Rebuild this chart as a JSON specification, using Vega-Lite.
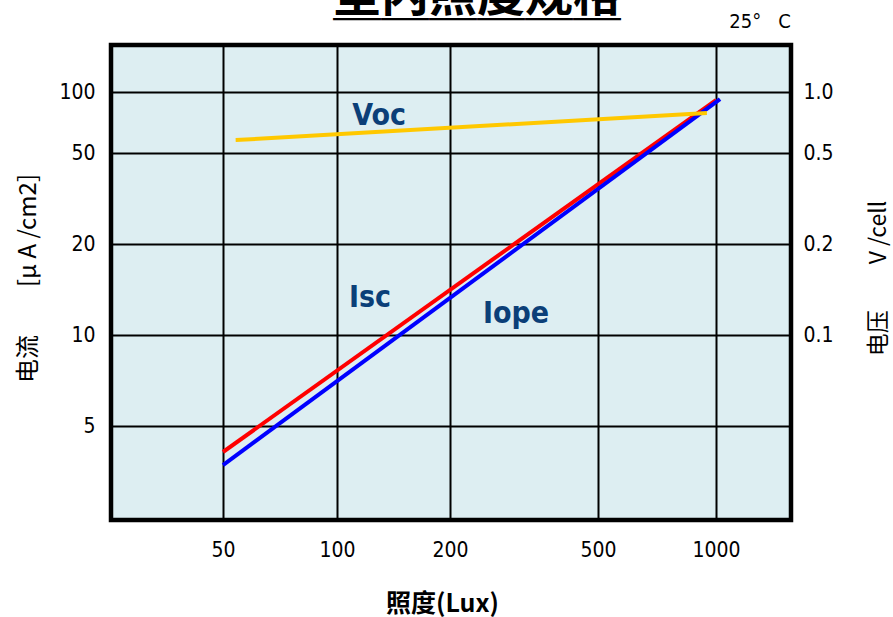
{
  "$schema": "https://vega.github.io/schema/vega-lite/v6.json",
  "autosize": {"type": "none"},
  "padding": {"left": 111, "top": 45, "right": 102, "bottom": 97},
  "width": 680,
  "height": 475,
  "background": "white",
  "title": {
    "text": "室内照度规格",
    "subtitle": "＿＿＿＿＿＿",
    "font": "Noto Sans CJK SC",
    "fontSize": 48,
    "fontWeight": "bold",
    "color": "black",
    "subtitleFont": "Noto Sans CJK SC",
    "subtitleFontSize": 48,
    "subtitleFontWeight": "bold",
    "subtitleColor": "black",
    "subtitlePadding": -45,
    "anchor": "middle",
    "dx": 26,
    "dy": 12,
    "offset": 0
  },
  "config": {
    "view": {"fill": "#ddeef2", "stroke": "black", "strokeWidth": 4.5},
    "axis": {
      "domain": false,
      "ticks": false,
      "labelFont": "DejaVu Sans Condensed, Roboto, sans-serif",
      "labelFontSize": 21,
      "labelColor": "black",
      "titleColor": "black",
      "gridColor": "black",
      "gridWidth": 2,
      "gridOpacity": 1
    }
  },
  "layer": [
    {
      "data": {
        "values": [
          {"series": "Isc", "lux": 50, "cur": 4.1},
          {"series": "Isc", "lux": 1000, "cur": 91.3},
          {"series": "Iope", "lux": 50, "cur": 3.71},
          {"series": "Iope", "lux": 1024, "cur": 92.3}
        ]
      },
      "mark": {"type": "line", "strokeWidth": 4, "clip": false},
      "encoding": {
        "x": {
          "field": "lux", "type": "quantitative",
          "scale": {"type": "log", "domain": [25.3, 50, 100, 200, 500, 1000, 1553], "range": [0, 112, 226, 339, 487, 605, 680], "nice": false, "zero": false},
          "axis": {
            "values": [50, 100, 200, 500, 1000],
            "format": "d",
            "labelPadding": 19,
            "title": "照度(Lux)",
            "titleFont": "Noto Sans CJK SC",
            "titleFontSize": 25,
            "titleFontWeight": "bold",
            "titleX": 331,
            "titleY": 83,
            "titleBaseline": "middle"
          }
        },
        "y": {
          "field": "cur", "type": "quantitative",
          "scale": {"type": "log", "domain": [2.44, 5, 10, 20, 50, 100, 170], "range": [475, 381, 290, 199, 108, 47, 0], "nice": false, "zero": false},
          "axis": {
            "orient": "left",
            "values": [5, 10, 20, 50, 100],
            "format": "d",
            "labelPadding": 16,
            "title": "电流　　[μ A /cm2]",
            "titleFont": "Noto Sans CJK SC",
            "titleFontSize": 24,
            "titleFontWeight": "normal",
            "titleX": -83,
            "titleY": 233,
            "titleAngle": 270,
            "titleAlign": "center",
            "titleBaseline": "middle"
          }
        },
        "color": {
          "field": "series", "type": "nominal",
          "scale": {"domain": ["Isc", "Iope"], "range": ["#ff0000", "#0000ff"]},
          "legend": null
        },
        "order": {"field": "series", "sort": "descending"}
      }
    },
    {
      "data": {
        "values": [
          {"lux": 54.0, "volt": 0.579},
          {"lux": 948, "volt": 0.788}
        ]
      },
      "mark": {"type": "line", "strokeWidth": 4, "color": "#ffc800", "clip": false},
      "encoding": {
        "x": {"field": "lux", "type": "quantitative", "scale": {"type": "log", "domain": [25.3, 50, 100, 200, 500, 1000, 1553], "range": [0, 112, 226, 339, 487, 605, 680], "nice": false, "zero": false}},
        "y": {
          "field": "volt", "type": "quantitative",
          "scale": {"type": "log", "domain": [0.0244, 0.05, 0.1, 0.2, 0.5, 1.0, 1.7], "range": [475, 381, 290, 199, 108, 47, 0], "nice": false, "zero": false},
          "axis": {
            "orient": "right",
            "values": [0.1, 0.2, 0.5, 1.0],
            "format": ".1f",
            "grid": false,
            "labelPadding": 12,
            "title": "电压　　V /cell",
            "titleFont": "Noto Sans CJK SC",
            "titleFontSize": 23,
            "titleFontWeight": "normal",
            "titleX": 87,
            "titleY": 233,
            "titleAngle": 270,
            "titleAlign": "center",
            "titleBaseline": "middle"
          }
        }
      }
    },
    {
      "data": {
        "values": [
          {"label": "Voc", "lux": 129.4, "cur": 76.1},
          {"label": "Isc", "lux": 122.4, "cur": 13.3},
          {"label": "Iope", "lux": 301, "cur": 11.7}
        ]
      },
      "mark": {"type": "text", "font": "DejaVu Sans Condensed, Roboto, sans-serif", "fontSize": 30, "fontWeight": "bold", "color": "#0b3f78", "align": "center", "baseline": "middle"},
      "encoding": {
        "x": {"field": "lux", "type": "quantitative", "scale": {"type": "log", "domain": [25.3, 50, 100, 200, 500, 1000, 1553], "range": [0, 112, 226, 339, 487, 605, 680], "nice": false, "zero": false}},
        "y": {"field": "cur", "type": "quantitative", "scale": {"type": "log", "domain": [2.44, 5, 10, 20, 50, 100, 170], "range": [475, 381, 290, 199, 108, 47, 0], "nice": false, "zero": false}, "axis": null},
        "text": {"field": "label"}
      }
    },
    {
      "data": {
        "values": [
          {"label": "25° \u00a0 C", "lux": 1295, "cur": 221}
        ]
      },
      "mark": {"type": "text", "font": "DejaVu Sans Condensed, Roboto, sans-serif", "fontSize": 20, "color": "black", "align": "center", "baseline": "middle", "clip": false},
      "encoding": {
        "x": {"field": "lux", "type": "quantitative", "scale": {"type": "log", "domain": [25.3, 50, 100, 200, 500, 1000, 1553], "range": [0, 112, 226, 339, 487, 605, 680], "nice": false, "zero": false}},
        "y": {"field": "cur", "type": "quantitative", "scale": {"type": "log", "domain": [2.44, 5, 10, 20, 50, 100, 170], "range": [475, 381, 290, 199, 108, 47, 0], "nice": false, "zero": false}, "axis": null},
        "text": {"field": "label"}
      }
    }
  ],
  "resolve": {"scale": {"y": "independent"}}
}
